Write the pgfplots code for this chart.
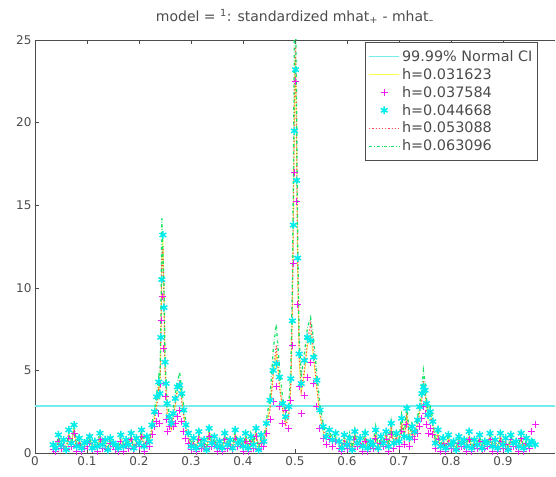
\documentclass[border=0pt]{standalone}
\usepackage{fontspec}
\setmainfont{DejaVu Sans}
\usepackage{pgfplots}
\usepackage{pgfplotstable}
\pgfplotsset{compat=1.18}
\definecolor{mgreen}{rgb}{0.1,0.9,0.4}
\definecolor{mcyan}{rgb}{0,0.93,0.93}
\definecolor{cicyan}{rgb}{0.45,0.93,0.93}
\definecolor{mmag}{rgb}{0.95,0.1,0.95}
\definecolor{mred}{rgb}{1,0.3,0.3}
\definecolor{myel}{rgb}{1,1,0.3}
\definecolor{axgray}{rgb}{0.3,0.3,0.3}
\pgfplotsset{
  linelegend/.style={legend image code/.code={\draw[##1] (0pt,0pt) -- (30pt,0pt);}},
  marklegend/.style={legend image code/.code={\draw[##1] plot coordinates {(15pt,0pt)};}},
}
\pgfplotstableread{
x a b c d e
0.035 0.3 0.2 0.5 0.4 0.6
0.040 0.2 0.1 0.3 0.2 0.2
0.045 0.9 0.7 1.1 0.8 1.0
0.050 0.4 0.3 0.5 0.3 0.6
0.055 0.5 0.4 0.8 0.6 0.7
0.060 0.1 0.2 0.2 0.1 0.3
0.065 1.2 0.9 1.4 1.1 1.3
0.070 0.5 0.4 0.6 0.5 0.4
0.075 1.6 1.2 1.7 1.4 1.8
0.080 0.3 0.1 0.4 0.2 0.5
0.085 0.7 0.5 0.9 0.8 1.1
0.090 0.2 0.1 0.3 0.2 0.2
0.095 0.4 0.3 0.6 0.5 0.5
0.100 0.6 0.4 0.7 0.5 0.8
0.105 0.9 0.6 1.0 1.2 0.9
0.110 0.2 0.2 0.3 0.1 0.3
0.115 0.6 0.4 0.7 0.5 0.8
0.120 0.3 0.1 0.4 0.2 0.5
0.125 1.1 0.8 1.2 0.9 1.3
0.130 0.4 0.3 0.5 0.3 0.6
0.135 0.5 0.3 0.8 0.6 0.7
0.140 0.1 0.2 0.2 0.1 0.3
0.145 0.8 0.6 0.9 1.0 0.8
0.150 0.5 0.4 0.6 0.5 0.4
0.155 0.3 0.2 0.5 0.4 0.6
0.160 0.2 0.1 0.3 0.2 0.2
0.165 0.9 0.7 1.1 0.8 1.2
0.170 0.3 0.1 0.4 0.2 0.5
0.175 0.6 0.5 0.8 0.7 0.7
0.180 0.4 0.3 0.5 0.3 0.6
0.185 1.0 0.8 1.2 1.1 1.0
0.190 0.2 0.2 0.3 0.1 0.3
0.195 0.7 0.5 0.9 0.6 1.1
0.200 0.5 0.4 0.6 0.5 0.4
0.205 1.3 1.0 1.4 1.2 1.5
0.210 0.3 0.1 0.4 0.2 0.5
0.215 0.8 0.6 1.0 0.9 0.9
0.220 0.6 0.4 0.7 0.5 0.8
0.225 1.5 1.1 1.7 1.4 1.8
0.230 2.2 1.6 2.5 2.0 2.6
0.234 3.0 1.9 3.4 2.8 3.6
0.238 4.1 2.4 4.3 3.8 4.6
0.240 3.2 1.8 3.6 3.5 4.0
0.242 6.5 4.2 7.0 6.8 7.6
0.244 11.5 8.0 10.5 12.0 14.2
0.246 13.0 9.5 13.2 12.5 12.0
0.248 9.0 6.3 8.8 9.5 10.2
0.250 5.0 3.4 5.5 5.2 6.0
0.252 3.8 2.0 4.2 3.6 4.4
0.254 2.6 1.3 3.0 2.4 3.2
0.258 1.9 1.6 2.2 1.8 2.4
0.262 1.4 1.9 1.8 1.5 1.6
0.266 2.3 1.6 2.4 2.1 2.7
0.270 2.9 1.8 3.3 3.0 3.6
0.274 3.8 2.2 4.0 3.9 4.3
0.278 4.2 2.6 4.1 4.4 4.9
0.282 3.3 1.9 3.6 3.1 3.9
0.286 2.4 1.3 2.6 2.2 2.8
0.290 1.5 0.9 1.7 1.4 1.9
0.295 0.9 0.6 1.2 1.0 1.3
0.300 0.3 0.2 0.4 0.3 0.5
0.305 0.7 0.5 0.9 0.8 1.0
0.310 0.2 0.1 0.3 0.2 0.2
0.315 1.1 0.8 1.3 1.0 1.2
0.320 0.4 0.3 0.5 0.3 0.6
0.325 0.6 0.4 0.8 0.5 0.7
0.330 0.1 0.2 0.2 0.1 0.3
0.335 1.4 1.0 1.5 1.3 1.6
0.340 0.5 0.4 0.6 0.5 0.4
0.345 0.8 0.5 1.0 0.9 0.9
0.350 0.3 0.1 0.4 0.2 0.5
0.355 0.5 0.3 0.7 0.6 0.8
0.360 0.2 0.1 0.3 0.2 0.2
0.365 1.0 0.8 1.2 1.1 1.3
0.370 0.4 0.3 0.5 0.3 0.6
0.375 0.7 0.4 0.8 0.6 0.7
0.380 0.2 0.2 0.3 0.1 0.3
0.385 1.2 0.9 1.4 1.1 1.5
0.390 0.5 0.4 0.6 0.5 0.4
0.395 0.6 0.5 0.8 0.7 0.9
0.400 0.3 0.1 0.4 0.2 0.5
0.405 1.1 0.7 1.2 1.0 1.1
0.410 0.2 0.1 0.3 0.2 0.2
0.415 0.8 0.6 1.0 0.9 1.2
0.420 0.4 0.3 0.5 0.3 0.6
0.425 1.3 1.0 1.5 1.2 1.4
0.430 0.1 0.2 0.2 0.1 0.3
0.435 0.9 0.6 1.1 1.0 1.0
0.440 0.6 0.4 0.7 0.5 0.8
0.445 1.6 1.2 1.8 1.5 2.0
0.452 2.8 2.0 3.2 2.6 3.4
0.458 4.6 3.1 5.0 4.8 6.2
0.464 6.0 4.0 5.4 6.5 7.8
0.470 4.2 2.8 4.6 4.0 5.2
0.476 2.6 1.8 3.0 2.8 3.4
0.482 1.8 2.6 2.2 1.6 2.4
0.488 2.4 1.5 2.8 2.2 3.0
0.492 4.0 3.2 4.5 4.2 5.0
0.495 8.5 6.5 8.0 9.0 10.5
0.497 14.0 11.5 13.8 15.0 17.0
0.499 21.0 17.0 19.5 22.0 26.0
0.501 24.0 22.5 23.2 24.6 27.0
0.503 18.5 15.2 16.5 19.0 21.0
0.505 11.0 9.0 11.8 12.0 13.5
0.508 5.5 4.0 6.0 6.2 7.0
0.512 3.6 2.4 4.2 3.8 4.6
0.518 4.8 3.5 5.6 5.0 6.0
0.524 6.5 4.6 7.0 6.8 7.6
0.530 7.2 5.5 6.8 7.8 8.2
0.536 5.6 4.2 5.8 6.0 6.8
0.542 3.8 2.8 4.4 4.0 4.8
0.548 2.2 1.5 2.6 2.4 2.9
0.554 1.3 0.9 1.6 1.4 1.8
0.560 0.8 0.5 1.0 0.9 1.1
0.566 1.2 0.8 1.4 1.1 1.3
0.572 0.6 0.4 0.8 0.7 0.9
0.578 1.0 0.7 1.2 0.9 1.1
0.585 0.5 0.3 0.7 0.6 0.8
0.590 0.2 0.1 0.3 0.2 0.2
0.595 0.9 0.6 1.1 1.0 1.0
0.600 0.4 0.3 0.5 0.3 0.6
0.605 0.6 0.4 0.9 0.7 1.2
0.610 0.1 0.2 0.2 0.1 0.3
0.615 1.2 0.8 1.3 1.1 1.4
0.620 0.5 0.4 0.6 0.5 0.4
0.625 0.7 0.5 0.9 0.8 0.8
0.630 0.3 0.1 0.4 0.2 0.5
0.635 1.0 0.7 1.2 1.0 1.3
0.640 0.2 0.1 0.3 0.2 0.2
0.645 0.5 0.4 0.7 0.6 0.7
0.650 0.4 0.3 0.5 0.3 0.6
0.655 1.3 0.9 1.4 1.2 1.6
0.660 0.2 0.2 0.3 0.1 0.3
0.665 0.8 0.6 1.0 0.9 1.0
0.670 0.5 0.4 0.6 0.5 0.4
0.675 1.1 0.8 1.3 1.2 1.4
0.680 0.3 0.1 0.4 0.2 0.5
0.685 1.6 1.1 1.8 1.5 1.9
0.690 0.4 0.3 0.6 0.4 0.7
0.695 1.0 0.7 1.2 1.1 1.3
0.700 0.6 0.4 0.7 0.5 0.8
0.705 1.9 1.3 2.1 1.8 2.3
0.710 0.8 0.5 1.0 0.7 1.1
0.715 2.5 1.7 2.7 2.4 2.9
0.720 0.7 0.4 0.9 0.6 1.0
0.725 1.4 1.0 1.6 1.3 1.8
0.730 1.0 0.8 1.3 1.1 1.4
0.736 1.8 1.2 2.0 1.7 2.2
0.740 2.6 1.6 2.8 2.5 3.0
0.744 3.4 2.1 3.6 3.2 4.0
0.747 4.2 2.8 4.0 4.4 5.0
0.750 3.6 2.4 3.8 3.8 4.3
0.753 2.8 1.7 3.0 2.6 3.2
0.756 2.0 1.2 2.3 2.1 2.6
0.760 2.6 1.5 2.5 2.3 2.8
0.765 1.7 1.1 1.9 1.6 2.1
0.770 0.5 0.3 0.6 0.4 0.7
0.775 1.2 0.8 1.4 1.1 1.5
0.780 0.3 0.1 0.4 0.2 0.5
0.785 0.7 0.5 0.9 0.8 0.9
0.790 0.2 0.1 0.3 0.2 0.2
0.795 1.0 0.6 1.1 0.9 1.2
0.800 0.4 0.3 0.5 0.3 0.6
0.805 0.5 0.3 0.7 0.6 0.8
0.810 0.1 0.2 0.2 0.1 0.3
0.815 0.9 0.6 1.0 0.8 1.1
0.820 0.5 0.4 0.6 0.5 0.4
0.825 0.6 0.4 0.8 0.7 0.7
0.830 0.3 0.1 0.4 0.2 0.5
0.835 1.1 0.8 1.3 1.0 1.2
0.840 0.2 0.1 0.3 0.2 0.2
0.845 0.7 0.4 0.8 0.6 0.9
0.850 0.4 0.3 0.5 0.3 0.6
0.855 0.9 0.7 1.1 1.0 1.0
0.860 0.2 0.2 0.3 0.1 0.3
0.865 0.5 0.3 0.7 0.6 0.8
0.870 0.5 0.4 0.6 0.5 0.4
0.875 1.0 0.8 1.2 0.9 1.3
0.880 0.3 0.1 0.4 0.2 0.5
0.885 0.6 0.4 0.8 0.7 0.7
0.890 0.2 0.1 0.3 0.2 0.2
0.895 1.1 0.7 1.2 1.0 1.1
0.900 0.4 0.3 0.5 0.3 0.6
0.905 0.7 0.5 0.9 0.8 0.9
0.910 0.1 0.2 0.2 0.1 0.3
0.915 0.9 0.8 1.1 0.9 1.2
0.920 0.5 0.4 0.6 0.5 0.4
0.925 0.5 0.4 0.7 0.6 0.7
0.930 0.3 0.1 0.4 0.2 0.5
0.935 1.0 0.9 1.2 1.0 1.1
0.940 0.2 0.1 0.3 0.2 0.2
0.945 0.6 0.6 0.9 0.7 0.8
0.950 0.4 0.3 0.5 0.3 0.6
0.955 0.8 1.3 0.7 0.6 0.9
0.962 0.4 1.7 0.5 0.4 0.6
}\data
\begin{document}
\begin{tikzpicture}
\begin{axis}[
  at={(0,0)}, anchor=south west,
  scale only axis, width=520pt, height=413pt,
  xmin=0, xmax=1, ymin=0, ymax=25,
  axis y line*=left,
  axis line style={axgray, line width=0.8pt},
  xtick={0,0.1,0.2,0.3,0.4,0.5,0.6,0.7,0.8,0.9},
  xticklabels={0,0.1,0.2,0.3,0.4,0.5,0.6,0.7,0.8,0.9},
  ytick={0,5,10,15,20,25},
  tick align=inside, major tick length=4pt,
  tick style={axgray},
  ticklabel style={font=\fontsize{12}{14}\selectfont, text=axgray},
  /pgf/number format/assume math mode=true,
  title={model = \textsuperscript{1}: standardized mhat\textsubscript{+} - mhat\textsubscript{–}},
  title style={font=\fontsize{14}{16}\selectfont, text=axgray, yshift=7pt},
  legend cell align=left,
  legend style={at={(0.635,0.995)}, anchor=north west, draw=axgray, fill=white,
    font=\fontsize{14.4}{16}\selectfont, text=axgray, row sep=1.5pt,
    inner xsep=3pt, inner ysep=6pt},
  linelegend,
]
\addplot[cicyan, line width=1.6pt] coordinates {(0,2.85) (1,2.85)};
\addlegendentry{99.99\% Normal CI}
\addplot[myel, line width=0.8pt] table[x=x,y=a] {\data};
\addlegendentry{h=0.031623}
\addplot[mmag, only marks, mark=+, mark size=3.5pt, line width=1pt, marklegend] table[x=x,y=b] {\data};
\addlegendentry{h=0.037584}
\addplot[mcyan, only marks, mark=asterisk, mark size=3.9pt, line width=1.5pt, marklegend] table[x=x,y=c] {\data};
\addlegendentry{h=0.044668}
\addplot[mred, dotted, line width=1.2pt] table[x=x,y=d] {\data};
\addlegendentry{h=0.053088}
\addplot[mgreen, dash dot, line width=1.3pt] table[x=x,y=e] {\data};
\addlegendentry{h=0.063096}
\end{axis}
\pgfresetboundingbox
\path[use as bounding box] (-35pt,-23pt) rectangle (521pt,453pt);
\end{tikzpicture}
\end{document}
